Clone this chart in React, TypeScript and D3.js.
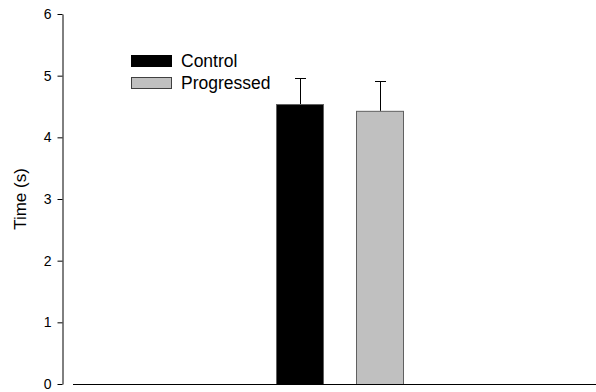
import React, { useEffect, useRef } from 'react';
import * as d3 from 'd3';

const groups = ['Control', 'Progressed'];
const means = [4.54, 4.43];
const errors = [0.43, 0.48];
const fills = ['#000000', '#c0c0c0'];
const yTicks = [0, 1, 2, 3, 4, 5, 6];

const App = () => {
  const chartRef = useRef<SVGSVGElement>(null);

  useEffect(() => {
    if (!chartRef.current) return;
    const width = 596;
    const height = 392;
    const svg = d3.select(chartRef.current);
    svg.selectAll('*').remove();
    svg.attr('width', width).attr('height', height);

    const font = 'Arial, "Liberation Sans", sans-serif';

    const y = d3.scaleLinear().domain([0, 6]).range([384, 14]);
    const x = d3.scaleBand().domain(groups).range([260, 420]).paddingInner(0.4).paddingOuter(0.2);

    // bars
    svg.selectAll('rect.bar')
      .data(groups)
      .enter()
      .append('rect')
      .attr('class', 'bar')
      .attr('x', d => (x(d) as number) + 0.5)
      .attr('y', (d, i) => y(means[i]) + 0.5)
      .attr('width', x.bandwidth() - 1)
      .attr('height', (d, i) => y(0) - y(means[i]))
      .attr('fill', (d, i) => fills[i])
      .attr('stroke', '#606060')
      .attr('stroke-width', 1);

    // error bars (upper only)
    groups.forEach((g, i) => {
      const cx = Math.round((x(g) as number) + x.bandwidth() / 2) + 0.5;
      const top = Math.round(y(means[i] + errors[i])) + 0.5;
      svg.append('line')
        .attr('x1', cx).attr('x2', cx)
        .attr('y1', y(means[i])).attr('y2', top)
        .attr('stroke', '#000').attr('stroke-width', 1);
      svg.append('line')
        .attr('x1', cx - 5.5).attr('x2', cx + 5.5)
        .attr('y1', top).attr('y2', top)
        .attr('stroke', '#000').attr('stroke-width', 1);
    });

    // y axis
    const yAxis = svg.append('g')
      .attr('transform', 'translate(62.5,0)')
      .style('font-family', font)
      .call(d3.axisLeft(y).tickValues(yTicks).tickSize(5).tickPadding(6).tickSizeOuter(0).tickFormat(d3.format('d')));
    yAxis.select('.domain').attr('stroke', '#000');
    yAxis.selectAll('.tick line').attr('stroke', '#000');
    yAxis.selectAll('.tick text').attr('font-size', 14).attr('fill', '#000');

    // x axis baseline
    svg.append('line')
      .attr('x1', 73).attr('x2', width)
      .attr('y1', y(0) + 0.5).attr('y2', y(0) + 0.5)
      .attr('stroke', '#000').attr('stroke-width', 1.2);

    // y label
    svg.append('text')
      .attr('transform', `translate(26,${(y(0) + y(6)) / 2}) rotate(-90)`)
      .attr('text-anchor', 'middle')
      .style('font-family', font)
      .attr('font-size', 17)
      .text('Time (s)');

    // legend
    const legend = svg.append('g').style('font-family', font);
    groups.forEach((g, i) => {
      const ly = 55 + i * 22;
      legend.append('rect')
        .attr('x', 131.5).attr('y', ly + 0.5)
        .attr('width', 40).attr('height', 11)
        .attr('fill', fills[i])
        .attr('stroke', i === 0 ? '#000' : '#404040');
      legend.append('text')
        .attr('x', 181).attr('y', ly + 12)
        .attr('font-size', 17.5)
        .text(g);
    });
  }, []);

  return <svg ref={chartRef} style={{ position: 'absolute', left: 0, top: 0 }}></svg>;
};

export default App;
